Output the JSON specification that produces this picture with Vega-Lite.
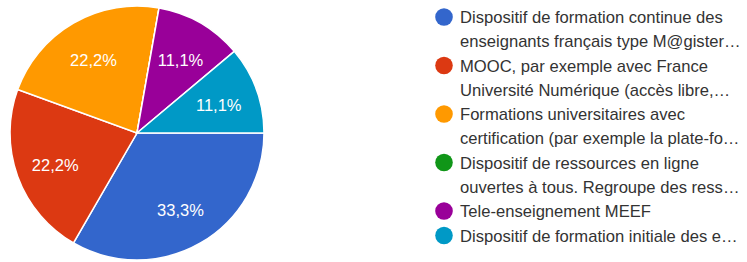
{
  "$schema": "https://vega.github.io/schema/vega-lite/v6.json",
  "width": 274,
  "height": 266,
  "autosize": "none",
  "padding": {"left": 0, "top": 0, "right": 473, "bottom": 0},
  "background": "white",
  "view": {"stroke": null},
  "config": {"style": {"guide-label": {"lineHeight": 24, "dy": 6}}},
  "data": {
    "values": [
      {"order": 1, "name": "Dispositif de formation continue des\nenseignants français type M@gister…", "count": 3, "pct": "33,3%"},
      {"order": 2, "name": "MOOC, par exemple avec France\nUniversité Numérique (accès libre,…", "count": 2, "pct": "22,2%"},
      {"order": 3, "name": "Formations universitaires avec\ncertification (par exemple la plate-fo…", "count": 2, "pct": "22,2%"},
      {"order": 4, "name": "Dispositif de ressources en ligne\nouvertes à tous. Regroupe des ress…", "count": 0, "pct": "0%"},
      {"order": 5, "name": "Tele-enseignement MEEF", "count": 1, "pct": "11,1%"},
      {"order": 6, "name": "Dispositif de formation initiale des e…", "count": 1, "pct": "11,1%"}
    ]
  },
  "encoding": {
    "theta": {"field": "count", "type": "quantitative", "stack": true, "scale": {"range": [1.5708, 7.854]}},
    "order": {"field": "order", "type": "quantitative"},
    "color": {
      "field": "name",
      "type": "nominal",
      "sort": {"field": "order", "op": "min"},
      "scale": {"range": ["#3366cc", "#dc3912", "#ff9900", "#109618", "#990099", "#0099c6"]},
      "legend": {
        "orient": "none",
        "legendX": 435,
        "legendY": 8,
        "title": null,
        "padding": 0,
        "symbolType": "circle",
        "symbolSize": 310,
        "symbolStrokeWidth": 0,
        "labelFont": "Liberation Sans",
        "labelFontSize": 16.6,
        "labelColor": "#333333",
        "labelLimit": 400,
        "labelOffset": 7,
        "labelBaseline": "alphabetic",
        "labelExpr": "split(datum.label, '\\n')",
        "rowPadding": 5.5
      }
    }
  },
  "layer": [
    {"mark": {"type": "arc", "outerRadius": 127, "stroke": "white", "strokeWidth": 1.5}},
    {
      "transform": [{"filter": "datum.count > 0"}],
      "mark": {"type": "text", "radius": 87, "fill": "white", "font": "Liberation Sans", "fontSize": 16.5, "dy": 3},
      "encoding": {"text": {"field": "pct", "type": "nominal"}, "color": {"value": "white"}}
    }
  ]
}
